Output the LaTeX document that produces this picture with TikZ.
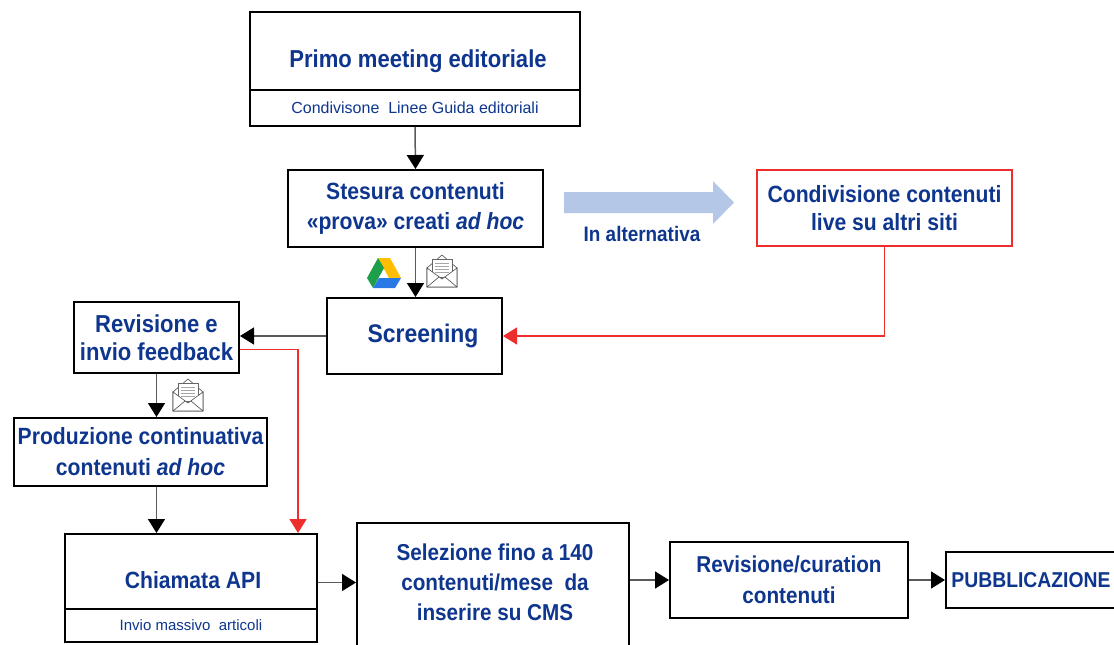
\documentclass[tikz,border=0pt]{standalone}
\usepackage{fontspec}
\setmainfont{Liberation Sans}
\newfontfamily\condfont{Liberation Sans}[FakeStretch=0.9]
\usetikzlibrary{arrows.meta}
\definecolor{tblue}{RGB}{14,54,142}
\definecolor{ablue}{RGB}{180,199,231}
\definecolor{lred}{RGB}{238,45,45}
\definecolor{cgray}{RGB}{90,90,90}
\definecolor{gdgreen}{RGB}{30,160,75}
\definecolor{gdyellow}{RGB}{255,190,0}
\definecolor{gdblue}{RGB}{40,120,230}
\begin{document}
\begin{tikzpicture}[x=1pt,y=-1pt,
  boxwh/.style 2 args={draw=black, line width=2pt, minimum width=#1, minimum height=#2,
    inner sep=0pt, align=center, text=tblue},
  redbox/.style 2 args={boxwh={#1}{#2}, draw=lred},
  title/.style={font=\condfont\fontsize{23.5}{30}\selectfont\bfseries, text=tblue, align=center, inner sep=0pt},
  sub/.style={font=\fontsize{16}{18}\selectfont, text=tblue},
  conn/.style={draw=cgray, line width=1.5pt, -{Triangle[length=14pt,width=17pt,color=black]}},
  redconn/.style={draw=lred, line width=1.5pt, -{Triangle[length=14pt,width=17pt,color=lred]}},
  envelope/.pic={
    \draw[line width=0.6pt, draw=black!70, fill=white] (0,13) -- (15,0) -- (30,13) -- (30,32) -- (0,32) -- cycle;
    \draw[line width=0.5pt, draw=black!60, fill=white] (5,4) rectangle (25,22);
    \foreach \yy in {8,11,14,17}{\draw[line width=0.9pt, draw=black!35] (8,\yy) -- (22,\yy);}
    \draw[line width=0.6pt, draw=black!70, fill=white] (0,13) -- (15,24) -- (30,13) -- (30,32) -- (0,32) -- cycle;
    \draw[line width=0.6pt, draw=black!70] (0,32) -- (12,22) (30,32) -- (18,22);
  }]
\useasboundingbox (0,0) rectangle (1114,645);
\fill[white] (0,0) rectangle (1114,645);

% top box
\node[boxwh={330}{78}] (primo) at (415,51) {};
\node[title, font=\condfont\fontsize{24.5}{30}\selectfont\bfseries] (primoT) at (418,61) {Primo meeting editoriale};
\node[boxwh={330}{36}, sub] (primoS) at (415,108) {Condivisone\ \ Linee\ Guida editoriali};

% stesura
\node[boxwh={255}{77}, title] (stesura) at (415.5,208.5) {Stesura contenuti\\\guillemotleft prova\guillemotright\ creati \textit{ad hoc}};

% alternative
\fill[ablue] (564,192) -- (713,192) -- (713,181) -- (734,202.5) -- (713,224) -- (713,213) -- (564,213) -- cycle;
\node[font=\condfont\fontsize{21}{22}\selectfont\bfseries, text=tblue] (alt) at (642,234) {In alternativa};
\node[redbox={255}{76}, title, font=\condfont\fontsize{23.5}{28}\selectfont\bfseries] (cond) at (884.5,208) {Condivisione contenuti\\live su altri siti};

% screening
\node[boxwh={175}{76}, title, font=\condfont\fontsize{25.5}{30}\selectfont\bfseries] (screen) at (414.5,336) {\hspace*{17pt}Screening};

% revisione e invio feedback
\node[boxwh={165}{71}, title, font=\condfont\fontsize{24.5}{28}\selectfont\bfseries] (revfb) at (156.5,337.5) {Revisione e\\invio feedback};

% produzione
\node[boxwh={253}{68}, title, font=\condfont\fontsize{23.5}{31}\selectfont\bfseries] (prod) at (140.5,452) {Produzione continuativa\\contenuti \textit{ad hoc}};

% chiamata API
\node[boxwh={252}{75}] (chiam) at (191,571.5) {};
\node[title] (chiamT) at (193,580) {Chiamata API};
\node[boxwh={252}{33}, sub, font=\fontsize{15}{16}\selectfont] (chiamS) at (191,625.5) {Invio massivo\ \ articoli};

% selezione
\node[boxwh={272}{137}] (selez) at (493,591.5) {};
\node[title, font=\condfont\fontsize{23}{30}\selectfont\bfseries] (selezT) at (495,582) {Selezione fino a 140\\contenuti/mese\ \ da\\inserire su CMS};

% revisione/curation
\node[boxwh={238}{76}, title, font=\condfont\fontsize{23}{31}\selectfont\bfseries] (revcur) at (789,580) {Revisione/curation\\contenuti};

% pubblicazione
\node[boxwh={170}{56}, title, font=\condfont\fontsize{21.5}{22}\selectfont\bfseries] (pub) at (1031,580) {PUBBLICAZIONE};

% icons
\begin{scope}
\fill[gdyellow] (378,258) -- (390,258) -- (401,278) -- (389,278) -- cycle;
\fill[gdgreen] (378,258) -- (384,268) -- (373,288) -- (367,278) -- cycle;
\fill[gdblue] (373,288) -- (395,288) -- (401,278) -- (379,278) -- cycle;
\end{scope}
\pic at (427,255) {envelope};
\pic at (173,379) {envelope};

% connectors
\draw[conn] (primoS.south) -- (stesura.north);
\draw[conn] (stesura.south) -- (stesura.south |- screen.north);
\draw[conn] (screen.west) -- (screen.west -| revfb.east);
\draw[redconn] (cond.south) |- (screen.east);
\draw[redconn] ([yshift=-12pt]revfb.east) -| ([xshift=107pt]chiam.north);
\draw[conn] (revfb.south) -- (revfb.south |- prod.north);
\draw[conn] (prod.south -| revfb.south) -- (revfb.south |- chiam.north);
\draw[conn] ([yshift=-11pt]chiam.east) -- ([yshift=-11pt]chiam.east -| selez.west);
\draw[conn] (selez.east |- revcur.west) -- (revcur.west);
\draw[conn] (revcur.east) -- (pub.west);
\end{tikzpicture}
\end{document}
